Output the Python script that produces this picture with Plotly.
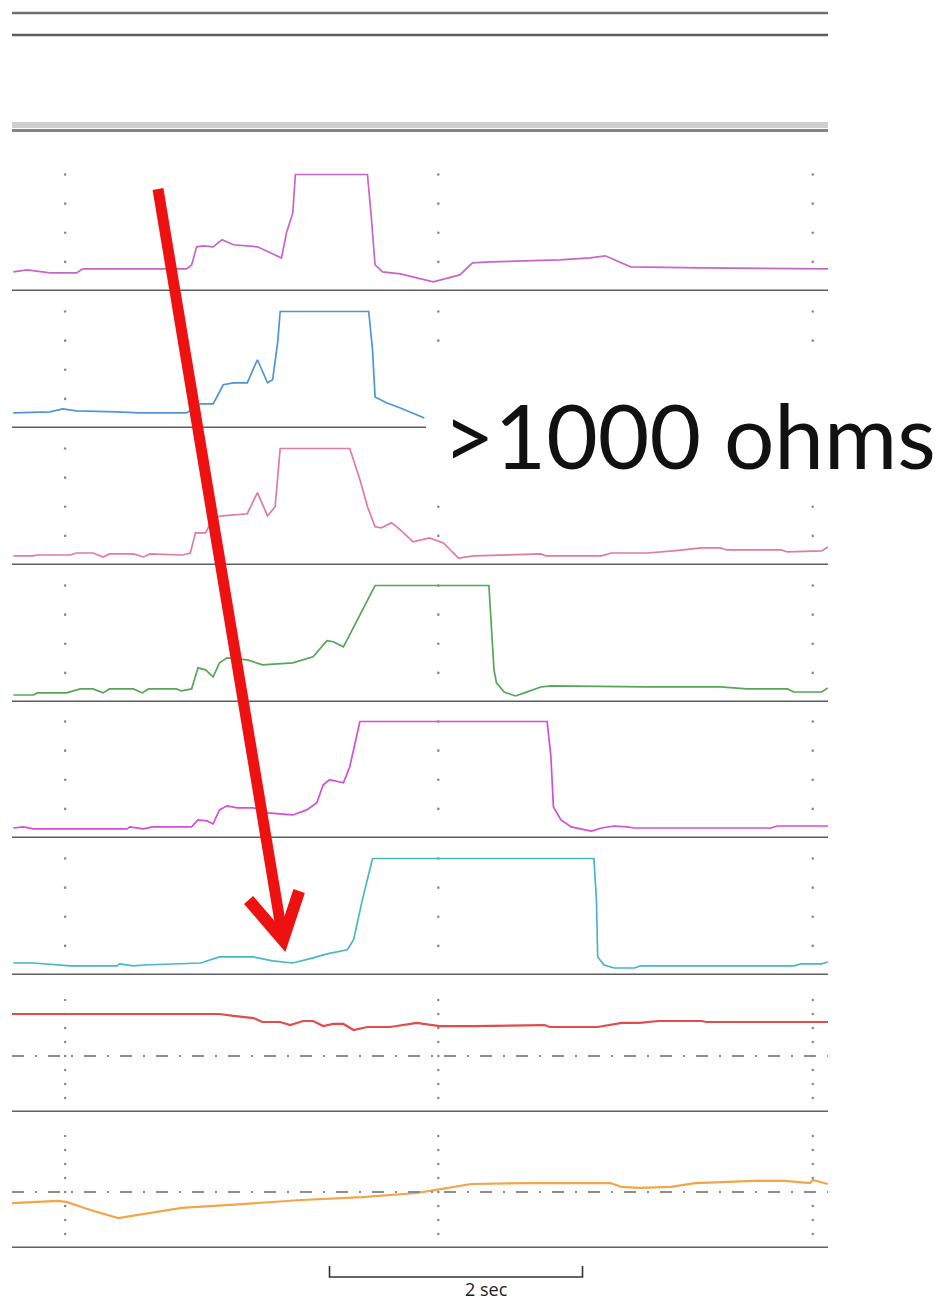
import plotly.graph_objects as go

# ---------------- data (time in s, impedance in ohms, pH) ----------------
t1 = [0.01, 0.12, 0.30, 0.51, 0.56, 1.38, 1.42, 1.46, 1.51, 1.59, 1.66, 1.75, 1.94, 2.13, 2.17, 2.22, 2.24,
      2.81, 2.84, 2.87, 2.93, 3.07, 3.33, 3.54, 3.64, 3.78, 4.33, 4.57, 4.69, 4.89, 5.44, 6.45]
z1 = [164, 181, 155, 155, 190, 190, 224, 379, 388, 379, 440, 397, 379, 284, 500, 672, 1000,
      1000, 638, 224, 164, 147, 78, 138, 241, 250, 267, 284, 302, 207, 198, 190]

t2 = [0.01, 0.30, 0.40, 0.51, 0.83, 1.01, 1.38, 1.49, 1.59, 1.67, 1.75, 1.86, 1.94, 2.02, 2.06, 2.10, 2.12,
      2.82, 2.85, 2.87, 2.96, 3.07, 3.26]
z2 = [129, 138, 164, 147, 138, 129, 129, 207, 207, 371, 388, 388, 586, 388, 414, 733, 1000,
      1000, 672, 267, 216, 172, 86]

t3 = [0.01, 0.17, 0.20, 0.46, 0.51, 0.64, 0.72, 0.77, 0.96, 1.04, 1.09, 1.35, 1.41, 1.45, 1.53, 1.59, 1.66,
      1.86, 1.94, 2.02, 2.08, 2.12, 2.67, 2.75, 2.81, 2.87, 2.92, 3.00, 3.07, 3.17, 3.30, 3.41, 3.53, 3.65,
      4.18, 4.22, 4.66, 4.74, 5.02, 5.23, 5.45, 5.60, 5.65, 6.08, 6.13, 6.40, 6.45]
z3 = [78, 78, 86, 86, 103, 103, 69, 95, 95, 69, 95, 86, 103, 276, 276, 405, 422,
      440, 621, 422, 500, 1000, 1000, 733, 500, 328, 319, 362, 302, 198, 233, 190, 60, 78,
      95, 78, 78, 103, 103, 121, 147, 147, 129, 129, 112, 121, 155]

t4 = [0.01, 0.17, 0.20, 0.43, 0.54, 0.64, 0.72, 0.77, 0.96, 1.03, 1.08, 1.30, 1.34, 1.42, 1.47, 1.53, 1.59,
      1.64, 1.70, 1.86, 1.98, 2.17, 2.22, 2.38, 2.49, 2.54, 2.62, 2.87, 3.77, 3.81, 3.83, 3.89, 3.98, 4.05,
      4.18, 4.26, 5.02, 5.60, 5.81, 6.13, 6.18, 6.40, 6.45]
z4 = [60, 60, 78, 78, 112, 112, 78, 112, 112, 78, 112, 112, 95, 112, 293, 276, 216,
      336, 379, 362, 319, 336, 336, 388, 526, 517, 474, 1000, 1000, 276, 164, 86, 52, 78,
      129, 138, 129, 129, 112, 112, 86, 86, 121]

t5 = [0.01, 0.09, 0.17, 0.91, 0.93, 1.04, 1.11, 1.42, 1.47, 1.54, 1.59, 1.64, 1.70, 1.78, 1.91, 2.02, 2.22,
      2.33, 2.41, 2.46, 2.51, 2.62, 2.67, 2.73, 2.75, 4.23, 4.26, 4.28, 4.34, 4.42, 4.58, 4.66, 4.76, 4.86,
      4.92, 6.00, 6.05, 6.45]
z5 = [86, 95, 78, 78, 95, 78, 95, 95, 155, 147, 121, 241, 276, 259, 259, 216, 198,
      241, 302, 457, 500, 474, 612, 905, 1000, 1000, 698, 267, 155, 95, 60, 86, 103, 95,
      86, 86, 103, 103]

t6 = [0.01, 0.17, 0.46, 0.83, 0.85, 0.96, 1.04, 1.49, 1.64, 1.91, 2.06, 2.22, 2.38, 2.49, 2.65, 2.70, 2.77,
      2.85, 4.60, 4.62, 4.63, 4.68, 4.76, 4.92, 4.97, 6.18, 6.24, 6.40, 6.45]
z6 = [103, 103, 78, 78, 95, 78, 86, 103, 155, 155, 121, 103, 147, 181, 216, 302, 647,
      1000, 1000, 647, 155, 86, 60, 60, 78, 78, 95, 95, 112]

t7 = [0.00, 1.64, 1.75, 1.91, 1.98, 2.12, 2.20, 2.30, 2.38, 2.46, 2.54, 2.62, 2.70, 2.81, 2.99, 3.20, 3.38,
      3.64, 4.21, 4.25, 4.63, 4.82, 4.96, 5.11, 5.45, 5.49, 6.45]
ph7 = [7.00, 7.00, 6.86, 6.71, 6.43, 6.43, 6.21, 6.50, 6.50, 6.14, 6.29, 6.29, 5.86, 6.07, 6.07, 6.36, 6.14,
       6.14, 6.21, 6.07, 6.07, 6.36, 6.36, 6.50, 6.50, 6.43, 6.43]

t8 = [0.00, 0.36, 0.43, 0.62, 0.84, 1.00, 1.34, 1.82, 2.29, 2.77, 3.20, 3.34, 3.63, 4.06, 4.73, 4.82, 4.96,
      5.21, 5.40, 5.87, 6.11, 6.31, 6.33, 6.45]
ph8 = [3.21, 3.36, 3.29, 2.71, 2.14, 2.36, 2.86, 3.14, 3.43, 3.64, 3.93, 4.14, 4.57, 4.64, 4.64, 4.36, 4.29,
       4.36, 4.64, 4.79, 4.79, 4.64, 4.86, 4.57]

grid_times = [0.42, 3.37, 6.33]          # vertical dotted time grid (s)
ohm_grid = [250, 500, 750, 1000]        # dotted grid levels, impedance channels
ph_grid = [1, 2, 3, 4, 5, 6, 7, 8]      # dotted grid levels, pH channels
ph_threshold = 4                         # dash-dot pH 4 reference
scale_start, scale_len = 2.51, 2.0       # "2 sec" scale bar
saturation_label = ">1000 ohms"

# ---------------- figure ----------------
# page body adds an 8px offset; figure sized so that it fills the window exactly
OFF = 8
W, H = 948 - OFF, 1300 - OFF
CH = 137  # channel height in px
ohm_colors = ["#c766c7", "#4f95d3", "#e27aa3", "#55a655", "#d24fd6", "#47b7c6"]
ph_colors = ["#e14c4c", "#f2a54a"]
bottoms = [291, 428, 565, 702, 838, 975, 1112, 1248]   # screen px of channel baselines
ohm_range = [0, 1000 * CH / 116.5]
ph_range = [0, CH / 14.0]

fig = go.Figure()
ohm_series = [(t1, z1), (t2, z2), (t3, z3), (t4, z4), (t5, z5), (t6, z6)]
ph_series = [(t7, ph7), (t8, ph8)]

def yname(i):
    return "y" if i == 0 else f"y{i+1}"

# dotted grid (drawn first, below traces)
for i in range(8):
    levels = ohm_grid if i < 6 else ph_grid
    xs, ys = [], []
    for gi, gt in enumerate(grid_times):
        for lv in levels:
            # dots hidden under the text label
            if i == 1 and gi >= 1 and lv < 700:
                continue
            if i == 2 and gi >= 1 and lv > 600:
                continue
            xs.append(gt)
            ys.append(lv)
    fig.add_trace(go.Scatter(x=xs, y=ys, mode="markers", xaxis="x", yaxis=yname(i),
                             marker=dict(size=2.6, color="#8c8c8c"), hoverinfo="skip", showlegend=False))

for i, (t, z) in enumerate(ohm_series):
    fig.add_trace(go.Scatter(x=t, y=z, mode="lines", xaxis="x", yaxis=yname(i),
                             line=dict(color=ohm_colors[i], width=1.7), hoverinfo="skip", showlegend=False))
for j, (t, p) in enumerate(ph_series):
    fig.add_trace(go.Scatter(x=t, y=p, mode="lines", xaxis="x", yaxis=yname(6 + j),
                             line=dict(color=ph_colors[j], width=2.2), hoverinfo="skip", showlegend=False))

# dummy trace for full-height pixel overlay axis
fig.add_trace(go.Scatter(x=[None], y=[None], xaxis="x", yaxis="y9", showlegend=False, hoverinfo="skip"))

left_px, right_px = 12, 828   # screen px of the time window
layout = dict(
    width=W, height=H,
    margin=dict(l=left_px - OFF, r=W - (right_px - OFF), t=0, b=0),
    paper_bgcolor="white", plot_bgcolor="rgba(0,0,0,0)",
    showlegend=False,
    xaxis=dict(range=[0, (right_px - left_px) / 126.5], visible=False, fixedrange=True, anchor="y9"),
    yaxis9=dict(range=[1300, OFF], domain=[0, 1], visible=False, fixedrange=True, anchor="x"),
)
for i in range(8):
    b = bottoms[i] - OFF
    key = "yaxis" if i == 0 else f"yaxis{i+1}"
    layout[key] = dict(domain=[1 - b / H, 1 - (b - CH) / H], range=ohm_range if i < 6 else ph_range,
                       visible=False, fixedrange=True, anchor="x")
fig.update_layout(**layout)

shapes = []
sep_col = "#5e5e5e"
# top header lines
shapes.append(dict(type="line", xref="paper", x0=0, x1=1, yref="y9", y0=13, y1=13,
                   line=dict(color="#707070", width=2.4)))
shapes.append(dict(type="line", xref="paper", x0=0, x1=1, yref="y9", y0=35, y1=35,
                   line=dict(color="#5e5e5e", width=2.4)))
shapes.append(dict(type="rect", xref="paper", x0=0, x1=1, yref="y9", y0=122, y1=128,
                   fillcolor="#cfcfcf", line=dict(width=0)))
shapes.append(dict(type="line", xref="paper", x0=0, x1=1, yref="y9", y0=130.5, y1=130.5,
                   line=dict(color="#858585", width=3)))
# channel separators (value 0 of each channel axis)
for i in range(8):
    x1 = 1 if i != 1 else (426 - left_px) / (right_px - left_px)
    shapes.append(dict(type="line", xref="paper", x0=0, x1=x1, yref=yname(i), y0=0, y1=0,
                       line=dict(color=sep_col, width=2.8)))
# pH 4 dash-dot reference lines
for j in range(2):
    shapes.append(dict(type="line", xref="paper", x0=0, x1=1, yref=yname(6 + j), y0=ph_threshold,
                       y1=ph_threshold, line=dict(color="#8e8e8e", width=1.8, dash="12px,11px,2px,11px")))
# 2 sec scale bar
shapes.append(dict(type="path", xref="x", yref="y9",
                   path=f"M {scale_start},1266 L {scale_start},1277 L {scale_start + scale_len},1277 "
                        f"L {scale_start + scale_len},1266",
                   line=dict(color="#333333", width=1.6)))
# red arrow (decoration)
red = "#ee1111"
shapes.append(dict(type="line", xref="x", yref="y9", x0=1.154, y0=189, x1=2.140, y1=938,
                   line=dict(color=red, width=11)))
shapes.append(dict(type="path", xref="x", yref="y9",
                   path="M 1.870,900 L 2.142,940 L 2.270,891",
                   line=dict(color=red, width=12)))
fig.update_layout(shapes=shapes)

fig.add_annotation(x=3.40, xref="x", y=434, yref="y9", text=saturation_label, showarrow=False,
                   xanchor="left", yanchor="middle", font=dict(family="Lato", size=89, color="#111111"),
                   bgcolor="white", borderpad=0)
fig.add_annotation(x=scale_start + scale_len * 0.62, xref="x", y=1289, yref="y9", text="2 sec",
                   showarrow=False, xanchor="center", yanchor="middle",
                   font=dict(family="Open Sans", size=18, color="#222222"))

fig.write_html("out.html", config={"displayModeBar": False, "staticPlot": True})
